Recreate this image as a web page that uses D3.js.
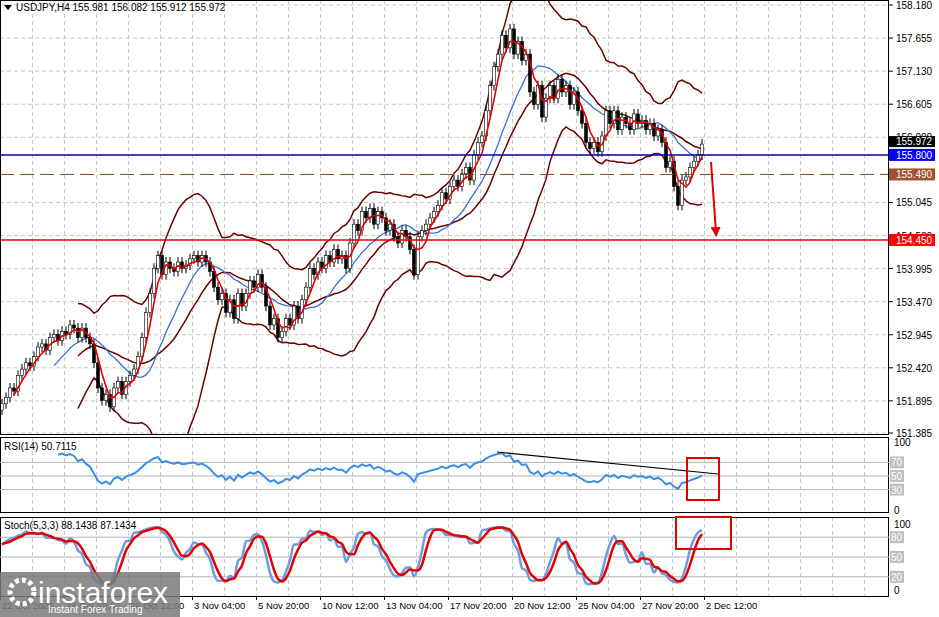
<!DOCTYPE html><html><head><meta charset="utf-8"><script src="https://cdn.jsdelivr.net/npm/d3@7"></script>
<style>body{margin:0;background:#fff}svg{font-family:"Liberation Sans",Arial,sans-serif}</style></head><body><svg id="c" width="939" height="617"></svg><script>
const closes=[151.85,151.95,152.1,152.05,152.3,152.4,152.5,152.45,152.6,152.75,152.8,152.7,152.9,152.95,152.85,153.0,152.95,153.1,153.05,152.9,153.05,152.9,152.8,152.5,152.1,151.9,152.0,151.8,152.1,152.2,152.0,152.2,152.3,152.4,152.6,152.9,153.3,153.6,154.0,154.2,153.9,154.1,154.0,153.95,154.1,154.0,154.05,154.15,154.2,154.1,154.2,154.1,153.95,153.7,153.5,153.6,153.3,153.5,153.2,153.6,153.4,153.6,153.8,153.7,153.9,153.7,153.4,153.1,153.2,152.9,153.0,153.2,153.1,153.4,153.2,153.5,153.7,154.0,153.9,154.1,154.0,154.2,154.1,154.3,154.15,154.2,154.0,154.4,154.7,154.6,154.9,154.8,154.95,154.7,154.9,154.8,154.6,154.7,154.5,154.4,154.6,154.5,154.3,153.9,154.5,154.6,154.7,154.8,154.9,155.0,155.2,155.1,155.3,155.4,155.3,155.5,155.6,155.4,155.8,156.0,156.1,156.5,156.9,157.2,157.4,157.7,157.5,157.8,157.4,157.6,157.3,157.4,156.8,156.6,156.9,156.4,156.7,156.9,156.7,157.0,156.8,156.9,156.6,156.8,156.5,156.3,156.0,155.9,156.0,155.85,156.1,156.5,156.3,156.5,156.2,156.4,156.3,156.2,156.45,156.3,156.35,156.2,156.3,156.1,156.2,156.0,155.6,155.7,155.3,155.0,155.4,155.45,155.6,155.7,155.8,155.972];
const priceTicks=[158.180,157.655,157.130,156.605,156.080,155.045,154.520,153.995,153.470,152.945,152.420,151.895,151.385];
const timeLabels=["22 Oct 2025","24 Oct 20:00","29 Oct 12:00","3 Nov 04:00","5 Nov 20:00","10 Nov 12:00","13 Nov 04:00","17 Nov 20:00","20 Nov 12:00","25 Nov 04:00","27 Nov 20:00","2 Dec 12:00"];
const levels=[{p:155.800,c:"#0000a0",bg:"#0000ff",dash:null},{p:155.490,c:"#8b4513",bg:"#a0522d",dash:"14,6"},{p:154.450,c:"#e00000",bg:"#ff0000",dash:null}];
const svg=d3.select("#c");
const W=889;
const n=closes.length;
const x=d3.scaleLinear().domain([0,n-1]).range([2,2+(n-1)*4]);
const y=d3.scaleLinear().domain([151.385,158.18]).range([433,5]);
const opens=closes.map((c,i)=>i?closes[i-1]:c-0.1);
const highs=closes.map((c,i)=>Math.max(c,opens[i])+0.08);
const lows=closes.map((c,i)=>Math.min(c,opens[i])-0.08);
svg.append("clipPath").attr("id","cm").append("rect").attr("x",0).attr("y",0).attr("width",W).attr("height",434);
const g=svg.append("g");
priceTicks.forEach(p=>g.append("line").attr("x1",0).attr("x2",W).attr("y1",y(p)).attr("y2",y(p)).attr("stroke","#c8c8c8").attr("stroke-dasharray","4,3"));
for(let gx=0;gx<W;gx+=32){[[0,434],[437,512],[517,596]].forEach(([a,b])=>g.append("line").attr("x1",gx+0.5).attr("x2",gx+0.5).attr("y1",a).attr("y2",b).attr("stroke","#c8c8c8").attr("stroke-dasharray","4,3"));}
function sma(a,p){return a.map((v,i)=>i<p-1?null:d3.mean(a.slice(i-p+1,i+1)));}
function sd(a,p){return a.map((v,i)=>i<p-1?null:d3.deviation(a.slice(i-p+1,i+1))*Math.sqrt((p-1)/p));}
const mid=sma(closes,20),dev=sd(closes,20);
const up=mid.map((m,i)=>m==null?null:m+2.2*dev[i]),lo=mid.map((m,i)=>m==null?null:m-2.2*dev[i]);
const maF=sma(closes,4),maS=sma(closes,14);
const line=(arr,sc)=>d3.line().defined(d=>d!=null).x((d,i)=>x(i)).y(d=>sc(d))(arr);
const mg=svg.append("g").attr("clip-path","url(#cm)");
[up,lo,mid].forEach(a=>mg.append("path").attr("d",line(a,y)).attr("fill","none").attr("stroke","#6b0000").attr("stroke-width",1.5));
mg.append("path").attr("d",line(maS,y)).attr("fill","none").attr("stroke","#3a6fd8").attr("stroke-width",1.3);
closes.forEach((c,i)=>{const o=opens[i];mg.append("line").attr("x1",x(i)).attr("x2",x(i)).attr("y1",y(highs[i])).attr("y2",y(lows[i])).attr("stroke","#000");
 mg.append("rect").attr("x",x(i)-1.5).attr("width",3).attr("y",y(Math.max(o,c))).attr("height",Math.max(1,Math.abs(y(o)-y(c)))).attr("fill",c>=o?"#fff":"#000").attr("stroke","#000").attr("stroke-width",0.6);});
mg.append("path").attr("d",line(maF,y)).attr("fill","none").attr("stroke","#e00000").attr("stroke-width",1.6);
levels.forEach(l=>{mg.append("line").attr("x1",0).attr("x2",W).attr("y1",y(l.p)).attr("y2",y(l.p)).attr("stroke",l.c).attr("stroke-width",l.dash?1:1.5).attr("stroke-dasharray",l.dash);});
svg.append("defs").append("marker").attr("id","ah").attr("viewBox","0 0 10 10").attr("refX",5).attr("refY",5).attr("markerWidth",5).attr("markerHeight",5).attr("orient","auto").append("path").attr("d","M0,0L10,5L0,10z").attr("fill","#e00000");
svg.append("line").attr("x1",711).attr("y1",162).attr("x2",716).attr("y2",232).attr("stroke","#e00000").attr("stroke-width",2).attr("marker-end","url(#ah)");
[[0,434],[437,512],[517,596]].forEach(([a,b])=>svg.append("rect").attr("x",0.5).attr("y",a+0.5).attr("width",W-1).attr("height",b-a).attr("fill","none").attr("stroke","#000"));
const ax=svg.append("g").attr("font-size",10);
priceTicks.forEach(p=>{ax.append("line").attr("x1",W).attr("x2",W+4).attr("y1",y(p)).attr("y2",y(p)).attr("stroke","#000");ax.append("text").attr("x",W+7).attr("y",y(p)+4).text(p.toFixed(3));});
const lastY=y(155.972)-3;
ax.append("rect").attr("x",W).attr("y",lastY-5).attr("width",46).attr("height",11).attr("fill","#000");
ax.append("text").attr("x",W+7).attr("y",lastY+4).attr("fill","#fff").text("155.972");
levels.forEach(l=>{ax.append("rect").attr("x",W).attr("y",y(l.p)-6).attr("width",46).attr("height",12).attr("fill",l.bg);ax.append("text").attr("x",W+7).attr("y",y(l.p)+4).attr("fill","#fff").text(l.p.toFixed(3));});
const ry=d3.scaleLinear().domain([0,100]).range([510,442]);
const rsi=closes.map(()=>null);{let ag=0,al=0;for(let i=1;i<n;i++){const d=closes[i]-closes[i-1];const gg=Math.max(d,0),ll=Math.max(-d,0);if(i<=14){ag+=gg/14;al+=ll/14;}else{ag=(ag*13+gg)/14;al=(al*13+ll)/14;}if(i>=14)rsi[i]=al===0?100:100-100/(1+ag/al);}}
[70,50,30].forEach(v=>{svg.append("line").attr("x1",0).attr("x2",W).attr("y1",ry(v)).attr("y2",ry(v)).attr("stroke","#b4b4b4");});
svg.append("path").attr("d",line(rsi,ry)).attr("fill","none").attr("stroke","#3d8ee8").attr("stroke-width",2);
svg.append("line").attr("x1",497).attr("y1",452).attr("x2",718).attr("y2",474).attr("stroke","#000").attr("stroke-width",1.2);
svg.append("rect").attr("x",687).attr("y",458).attr("width",32).attr("height",42).attr("fill","none").attr("stroke","#e00000").attr("stroke-width",2);
svg.append("text").attr("x",4).attr("y",450).attr("font-size",10).text("RSI(14) 50.7115");
const sy=d3.scaleLinear().domain([0,100]).range([590,524]);
const kRaw=closes.map((c,i)=>{const a=Math.max(0,i-4);const hh=d3.max(highs.slice(a,i+1)),ll=d3.min(lows.slice(a,i+1));return 100*(c-ll)/(hh-ll);});
const k=kRaw.map((v,i)=>d3.mean(kRaw.slice(Math.max(0,i-2),i+1)));
const dl=k.map((v,i)=>d3.mean(k.slice(Math.max(0,i-2),i+1)));
[80,50,20].forEach(v=>svg.append("line").attr("x1",0).attr("x2",W).attr("y1",sy(v)).attr("y2",sy(v)).attr("stroke","#b4b4b4"));
svg.append("path").attr("d",d3.line().curve(d3.curveMonotoneX).x((d,i)=>x(i)).y(d=>sy(d))(k)).attr("fill","none").attr("stroke","#6f9be0").attr("stroke-width",2.5);
svg.append("path").attr("d",d3.line().curve(d3.curveMonotoneX).x((d,i)=>x(i)).y(d=>sy(d))(dl)).attr("fill","none").attr("stroke","#e00000").attr("stroke-width",2.5);
svg.append("rect").attr("x",676).attr("y",517).attr("width",55).attr("height",32).attr("fill","none").attr("stroke","#e00000").attr("stroke-width",2);
svg.append("text").attr("x",4).attr("y",529).attr("font-size",10).text("Stoch(5,3,3) 88.1438 87.1434");
const sa=svg.append("g").attr("font-size",10);
[[ry,[100,70,50,30,0]],[sy,[100,80,50,20,0]]].forEach(([s,vals])=>vals.forEach(v=>{if(v===0||v===100)sa.append("text").attr("x",W+5).attr("y",s(v)+4).text(v);else{sa.append("rect").attr("x",W+1).attr("y",s(v)-6).attr("width",14).attr("height",12).attr("fill","#c0c0c0");sa.append("text").attr("x",W+2).attr("y",s(v)+4).attr("fill","#fff").text(v);}}));
timeLabels.forEach((t,i)=>{const tx=i*64;svg.append("line").attr("x1",tx+0.5).attr("x2",tx+0.5).attr("y1",596).attr("y2",600).attr("stroke","#000");svg.append("text").attr("x",tx+2).attr("y",609).attr("font-size",9.5).text(t);});
svg.append("path").attr("d","M4,5L12,5L8,10z").attr("fill","#000");
svg.append("text").attr("x",16).attr("y",11).attr("font-size",10).text("USDJPY,H4  155.981 156.082 155.912 155.972");
svg.append("rect").attr("x",0).attr("y",572).attr("width",180).attr("height",45).attr("fill","#7a7a7a").attr("opacity",0.85);
svg.append("circle").attr("cx",22).attr("cy",592).attr("r",12).attr("fill","none").attr("stroke","#fff").attr("stroke-width",5).attr("stroke-dasharray","4,3");
svg.append("text").attr("x",38).attr("y",603).attr("font-size",30).attr("fill","#fff").text("instaforex");
svg.append("text").attr("x",48).attr("y",613).attr("font-size",10).attr("fill","#fff").text("Instant Forex Trading");
</script></body></html>
